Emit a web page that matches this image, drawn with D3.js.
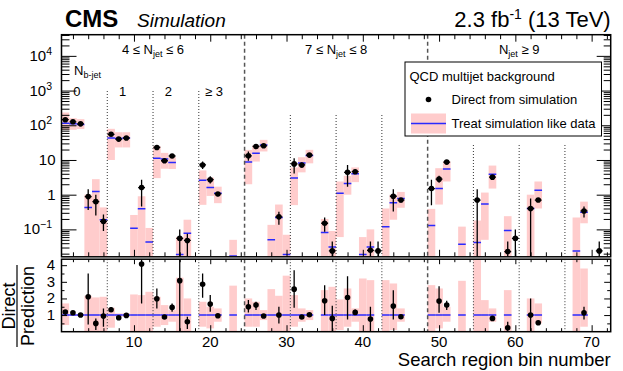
<!DOCTYPE html>
<meta charset="utf-8">
<style>
body { margin: 0; background: #fff; }
svg { font-family: "Liberation Sans", Arial, sans-serif; }
</style>
<body>
<svg width="623" height="371"></svg>
<script src="https://cdnjs.cloudflare.com/ajax/libs/d3/7.8.5/d3.min.js"></script>
<script>

// 72 search bins, 6 per (Njet, Nb-jet) group; null = empty
var bins = d3.range(1, 73);

var direct = [
  145, 126, 110, 0.88, 0.63, 0.17,
  55, 40, 43, null, 1.6, null,
  23, 9.5, 13, 0.055, 0.048, null,
  7.2, 2.7, 1.05, null, null, null,
  13.2, 24.5, 25.6, null, 0.23, null,
  7.7, 7.2, 13.8, null, 0.15, 0.024,
  null, 4.4, 4.6, null, 0.025, 0.024,
  null, 0.9, 0.7, null, null, null,
  1.5, 2.8, 8.7, null, null, null,
  0.7, null, 3.2, null, 0.023, 0.055,
  null, 0.4, 0.7, null, null, null,
  null, null, 0.34, null, 0.024, null
];
var directLo = [
  135, 118, 102, 0.36, 0.25, 0.09,
  50, 36, 39, null, 0.46, null,
  20, 8.3, 11.5, 0, 0, null,
  5.5, 2.1, 0.9, null, null, null,
  9.5, 21, 23, null, 0.135, null,
  4.1, 6, 12.5, null, 0.085, 0,
  null, 1.7, 4.0, null, 0, 0,
  null, 0.33, 0.6, null, null, null,
  0.5, 2.2, 7.8, null, null, null,
  0, null, 2.9, null, 0, 0,
  null, 0, 0.63, null, null, null,
  null, null, 0.22, null, 0, null
];
var directHi = [
  155, 134, 118, 1.44, 1.0, 0.27,
  60, 44, 47, null, 2.7, null,
  26, 10.7, 14.5, 0.1, 0.075, null,
  9, 3.4, 1.2, null, null, null,
  17.6, 28, 28, null, 0.32, null,
  11.3, 8.5, 15, null, 0.22, 0.045,
  null, 7.2, 5.3, null, 0.045, 0.045,
  null, 1.44, 0.8, null, null, null,
  2.7, 3.5, 9.8, null, null, null,
  1.44, null, 3.5, null, 0.045, 0.1,
  null, 0.78, 0.8, null, null, null,
  null, null, 0.46, null, 0.045, null
];

var pred = [
  115, 110, 105, 0.43, 1.23, 0.19,
  43, 41.7, 43, 0.107, 0.39, 0.043,
  11.3, 10.7, 8.5, 0.019, 0.078, null,
  2.6, 1.6, 1.1, null, 0.017, null,
  8.7, 15.7, 27, 0.05, 0.22, 0.019,
  3.0, 8.2, 13.5, null, 0.081, 0.031,
  1.1, 2.1, 4.0, 0.019, 0.031, null,
  0.12, 0.59, 0.78, null, null, null,
  0.13, 1.5, 5.5, null, 0.037, null,
  0.042, 0.54, 3.9, null, 0.093, null,
  null, 0.4, 1.35, null, null, null,
  null, 0.024, 0.31, null, null, null
];
var predLo = [
  74, 74, 78, 0, 0, 0,
  10, 23, 23, 0, 0, 0,
  3, 5.6, 5.5, 0, 0, null,
  0.51, 0.92, 0.57, null, 0, null,
  2.0, 9, 17.6, 0, 0, 0,
  0.5, 4.4, 8, null, 0, 0,
  0.06, 1.0, 2.3, 0, 0, null,
  0, 0.19, 0.42, null, null, null,
  0, 0.52, 2.4, null, 0, null,
  0, 0.05, 1.5, null, 0, null,
  null, 0, 0.4, null, null, null,
  null, 0, 0.15, null, null, null
];
var predHi = [
  233, 160, 150, 1.0, 2.8, 0.43,
  79, 63, 63, 0.26, 0.9, 0.11,
  25, 16, 12, 0.06, 0.19, null,
  5.0, 3.1, 1.7, null, 0.05, null,
  19.5, 26, 38, 0.135, 0.52, 0.07,
  6.1, 12, 19.6, null, 0.2, 0.09,
  2.4, 3.5, 6.1, 0.06, 0.1, null,
  0.4, 1.0, 1.2, null, null, null,
  0.39, 5.8, 9, null, 0.12, null,
  0.18, 1.15, 6.9, null, 0.24, null,
  null, 1.0, 2.4, null, null, null,
  null, 0.22, 0.63, null, null, null
];

// lower panel: direct / prediction
var ratio = [
  1.18, 1.14, 1.0, 2.1, 0.5, 0.94,
  1.32, 0.84, 0.98, null, 4.07, null,
  1.98, 0.88, 1.46, 3.07, 0.6, null,
  2.85, 1.66, 0.96, null, null, null,
  1.5, 1.6, 0.94, null, 1.0, null,
  2.56, 0.88, 1.02, null, 1.86, 0.8,
  null, 2.06, 1.16, null, 0.76, null,
  null, 1.54, 0.9, null, null, null,
  null, 1.84, 1.6, null, null, null,
  null, null, 0.8, null, 0.24, null,
  null, 1.0, 0.54, null, null, null,
  null, null, 1.14, null, null, null
];
var ratioLo = [
  1.1, 1.08, 0.95, 0.44, 0.1, 0.3,
  1.18, 0.78, 0.94, null, 1.7, null,
  1.4, 0.8, 1.2, 0, 0.16, null,
  2.04, 1.2, 0.85, null, null, null,
  1.16, 1.3, 0.9, null, 0.5, null,
  1.44, 0.8, 0.97, null, 1.0, 0,
  null, 0.74, 1.0, null, 0, null,
  null, 0.74, 0.86, null, null, null,
  null, 1.14, 1.3, null, null, null,
  null, null, 0.66, null, 0, null,
  null, 0, 0.42, null, null, null,
  null, null, 0.74, null, null, null
];
var ratioHi = [
  1.26, 1.2, 1.05, 3.5, 0.8, 1.4,
  1.48, 0.9, 1.06, null, 4.4, null,
  2.6, 0.98, 1.7, 4.4, 0.9, null,
  3.5, 2.2, 1.07, null, null, null,
  1.9, 1.8, 0.98, null, 1.5, null,
  3.7, 0.98, 1.08, null, 2.8, 1.56,
  null, 3.34, 1.34, null, 1.5, null,
  null, 2.5, 0.94, null, null, null,
  null, 2.74, 1.86, null, null, null,
  null, null, 0.94, null, 0.6, null,
  null, 2.0, 0.66, null, null, null,
  null, null, 1.5, null, null, null
];
var bandLo = [
  0.4, 0.95, 0.95, 0, 0, 0,
  0.24, 0.9, 0.9, 0, 0, 0,
  0.3, 0.4, 0.6, 0, 0, null,
  0.3, 0.2, 0.6, null, 0, null,
  0.3, 0.3, 0.7, 0, 0, 0,
  0.3, 0.6, 0.7, null, 0, 0,
  0.1, 0.3, 0.6, 0, 0, null,
  0, 0.1, 0.6, null, null, null,
  0, 0.2, 0.6, null, 0, null,
  0, 0, 0.6, null, 0, null,
  null, 0, 0.5, null, null, null,
  null, 0, 0.3, null, null, null
];
var bandHi = [
  1.7, 1.05, 1.05, 2.16, 2.06, 2.1,
  1.44, 1.1, 1.1, 2.24, 2.2, 2.4,
  2.1, 1.6, 1.3, 3.25, 2.0, null,
  1.8, 1.5, 1.4, null, 2.77, null,
  2.0, 1.8, 1.3, 2.56, 2.16, 3.37,
  2.2, 1.4, 1.3, null, 2.5, 2.7,
  1.94, 2.6, 1.4, 3.2, 3.1, null,
  3.1, 2.9, 1.4, null, null, null,
  2.8, 2.6, 1.5, null, 3.06, null,
  4.4, 1.9, 1.4, null, 2.5, null,
  null, 2.0, 1.7, null, null, null,
  null, 4.4, 3.8, null, null, null
];

var nbLabels = ["0", "1", "2", "\u2265 3"];
var nbDividers = [6.5, 12.5, 18.5, 30.5, 36.5, 42.5, 54.5, 60.5, 66.5];
var njetDividers = [24.5, 48.5];

var pink = "#ffcccc", blue = "#2a2aff";

var svg = d3.select("svg");

var left = 61.5, right = 610.7;
var topY0 = 34.7, topY1 = 256.8, ratY0 = 259.2, ratY1 = 331.7;

var x = d3.scaleLinear().domain([0.5, 72.5]).range([left, right]);
var y = d3.scaleLog().domain([Math.pow(10, -1.79), Math.pow(10, 4.61)]).range([topY1, topY0]).clamp(true);
var yr = d3.scaleLinear().domain([0, 4.36]).range([ratY1, ratY0]).clamp(true);
var bw = x(2) - x(1);

svg.append("defs").append("clipPath").attr("id", "clipTop")
  .append("rect").attr("x", left).attr("y", topY0).attr("width", right - left).attr("height", topY1 - topY0);
svg.select("defs").append("clipPath").attr("id", "clipRat")
  .append("rect").attr("x", left).attr("y", ratY0).attr("width", right - left).attr("height", ratY1 - ratY0);

// ---------- upper panel ----------
var gTop = svg.append("g").attr("clip-path", "url(#clipTop)");
var predBins = bins.filter(function(b) { return pred[b - 1] != null; });
var dirBins = bins.filter(function(b) { return direct[b - 1] != null; });

gTop.selectAll("rect.band").data(predBins).enter().append("rect")
    .attr("x", function(b) { return x(b - 0.5); })
    .attr("width", bw)
    .attr("y", function(b) { return y(predHi[b - 1]); })
    .attr("height", function(b) { return y(predLo[b - 1]) - y(predHi[b - 1]); })
    .attr("fill", pink);

gTop.selectAll("line.pred").data(predBins).enter().append("line")
    .attr("x1", function(b) { return x(b - 0.5); })
    .attr("x2", function(b) { return x(b + 0.5); })
    .attr("y1", function(b) { return y(pred[b - 1]); })
    .attr("y2", function(b) { return y(pred[b - 1]); })
    .attr("stroke", blue).attr("stroke-width", 1.5);

// separators
var dividerTop = function(v) { return v < 24.5 ? 91 : v < 48.5 ? 115 : 145; };
gTop.selectAll("line.nb").data(nbDividers).enter().append("line")
    .attr("x1", x).attr("x2", x)
    .attr("y1", dividerTop).attr("y2", topY1)
    .attr("stroke", "#333").attr("stroke-width", 1).attr("stroke-dasharray", "1,2");
gTop.selectAll("line.nj").data(njetDividers).enter().append("line")
    .attr("x1", x).attr("x2", x)
    .attr("y1", topY0).attr("y2", topY1)
    .attr("stroke", "#555").attr("stroke-width", 1.5).attr("stroke-dasharray", "4,3");

// direct points
gTop.selectAll("line.ev").data(dirBins).enter().append("line")
    .attr("x1", x).attr("x2", x)
    .attr("y1", function(b) { return y(directHi[b - 1]); })
    .attr("y2", function(b) { return y(directLo[b - 1]); })
    .attr("stroke", "#000").attr("stroke-width", 1.3);
gTop.selectAll("line.eh").data(dirBins).enter().append("line")
    .attr("x1", function(b) { return x(b - 0.45); })
    .attr("x2", function(b) { return x(b + 0.45); })
    .attr("y1", function(b) { return y(direct[b - 1]); })
    .attr("y2", function(b) { return y(direct[b - 1]); })
    .attr("stroke", "#000").attr("stroke-width", 1.3);
gTop.selectAll("circle").data(dirBins).enter().append("circle")
    .attr("cx", x).attr("cy", function(b) { return y(direct[b - 1]); })
    .attr("r", 2.8).attr("fill", "#000");

// ---------- ratio panel ----------
var gRat = svg.append("g").attr("clip-path", "url(#clipRat)");
gRat.selectAll("rect").data(predBins).enter().append("rect")
    .attr("x", function(b) { return x(b - 0.5); })
    .attr("width", bw)
    .attr("y", function(b) { return yr(bandHi[b - 1]); })
    .attr("height", function(b) { return yr(bandLo[b - 1]) - yr(bandHi[b - 1]); })
    .attr("fill", pink);
gRat.selectAll("line.one").data(predBins).enter().append("line")
    .attr("x1", function(b) { return x(b - 0.5); })
    .attr("x2", function(b) { return x(b + 0.5); })
    .attr("y1", yr(1)).attr("y2", yr(1))
    .attr("stroke", blue).attr("stroke-width", 1.5);
gRat.selectAll("line.nb").data(nbDividers).enter().append("line")
    .attr("x1", x).attr("x2", x).attr("y1", ratY0).attr("y2", ratY1)
    .attr("stroke", "#333").attr("stroke-width", 1).attr("stroke-dasharray", "1,2");
gRat.selectAll("line.nj").data(njetDividers).enter().append("line")
    .attr("x1", x).attr("x2", x).attr("y1", ratY0).attr("y2", ratY1)
    .attr("stroke", "#555").attr("stroke-width", 1.5).attr("stroke-dasharray", "4,3");

var ratBins = bins.filter(function(b) { return ratio[b - 1] != null; });
gRat.selectAll("line.ev").data(ratBins).enter().append("line")
    .attr("x1", x).attr("x2", x)
    .attr("y1", function(b) { return yr(ratioHi[b - 1]); })
    .attr("y2", function(b) { return yr(ratioLo[b - 1]); })
    .attr("stroke", "#000").attr("stroke-width", 1.3);
gRat.selectAll("circle").data(ratBins).enter().append("circle")
    .attr("cx", x).attr("cy", function(b) { return yr(ratio[b - 1]); })
    .attr("r", 2.8).attr("fill", "#000");

// ---------- axes (ROOT style, ticks inward) ----------
var majorX = [10, 20, 30, 40, 50, 60, 70];
var minorX = d3.range(2, 73, 2).filter(function(v) { return v % 10 != 0; });
var logMajor = [0.1, 1, 10, 100, 1000, 10000];
var logMinor = [];
d3.range(-2, 5).forEach(function(e) {
  d3.range(2, 10).forEach(function(k) {
    var v = k * Math.pow(10, e);
    if (v > y.domain()[0] && v < y.domain()[1]) logMinor.push(v);
  });
});
var ratMajor = [1, 2, 3, 4];
var ratMinor = d3.range(0.5, 4.4, 0.5).filter(function(v) { return v % 1 != 0; });

function ticks(g, sel) { g.call(sel); g.select(".domain").remove(); g.selectAll("line").attr("stroke", "#000"); }

function xTicks(yPos, dir, major, minor) {
  svg.append("g").attr("transform", "translate(0," + yPos + ")")
    .call(function(g) { ticks(g, (dir < 0 ? d3.axisBottom(x) : d3.axisTop(x)).tickValues(minorX).tickSize(-minor).tickFormat("")); });
  svg.append("g").attr("transform", "translate(0," + yPos + ")")
    .call(function(g) { ticks(g, (dir < 0 ? d3.axisBottom(x) : d3.axisTop(x)).tickValues(majorX).tickSize(-major).tickFormat("")); });
}
xTicks(topY0, 1, 7, 4.5);
xTicks(topY1, -1, 7, 4.5);
xTicks(ratY0, 1, 5, 3);
xTicks(ratY1, -1, 6.5, 3.5);

function yTicks(scale, xPos, isLeft, vals, len) {
  svg.append("g").attr("transform", "translate(" + xPos + ",0)")
    .call(function(g) { ticks(g, (isLeft ? d3.axisLeft(scale) : d3.axisRight(scale)).tickValues(vals).tickSize(-len).tickFormat("")); });
}
yTicks(y, left, true, logMinor, 8);
yTicks(y, left, true, logMajor, 15);
yTicks(y, right, false, logMinor, 7);
yTicks(y, right, false, logMajor, 14);
yTicks(yr, left, true, ratMinor, 3);
yTicks(yr, left, true, ratMajor, 5.5);
yTicks(yr, right, false, ratMinor, 3.5);
yTicks(yr, right, false, ratMajor, 6.5);

// frames
svg.append("rect").attr("x", left).attr("y", topY0).attr("width", right - left).attr("height", topY1 - topY0)
  .attr("fill", "none").attr("stroke", "#000").attr("stroke-width", 1.5);
svg.append("rect").attr("x", left).attr("y", ratY0).attr("width", right - left).attr("height", ratY1 - ratY0)
  .attr("fill", "none").attr("stroke", "#000").attr("stroke-width", 1.5);

// tick labels
var fs = 15;
var yl = svg.append("g").attr("font-size", fs).attr("text-anchor", "end");
logMajor.forEach(function(v) {
  var e = Math.round(Math.log10(v));
  var t = yl.append("text").attr("y", y(v) + 5);
  if (e === 0 || e === 1) {
    t.attr("x", 55.5).text(e === 0 ? "1" : "10");
  } else {
    t.attr("x", 52);
    t.append("tspan").text("10");
    t.append("tspan").attr("dy", -6).attr("font-size", 10.5).text(e < 0 ? "\u22121" : String(e));
  }
});
ratMajor.forEach(function(v) {
  yl.append("text").attr("x", 55).attr("y", yr(v) + 5).text(v);
});
var xl = svg.append("g").attr("font-size", fs).attr("text-anchor", "middle");
majorX.forEach(function(v) {
  xl.append("text").attr("x", x(v)).attr("y", ratY1 + 15.5).text(v);
});

svg.append("text").attr("x", right).attr("y", 366).attr("text-anchor", "end")
  .attr("font-size", 18.5).text("Search region bin number");

var fr = svg.append("g").attr("transform", "translate(0,306) rotate(-90)").attr("font-size", 18).attr("text-anchor", "middle");
fr.append("text").attr("x", 0).attr("y", 15).text("Direct");
fr.append("text").attr("x", 0).attr("y", 33.5).text("Prediction");
fr.append("line").attr("x1", -41).attr("x2", 41).attr("y1", 17).attr("y2", 17).attr("stroke", "#000").attr("stroke-width", 1.2);

// header
svg.append("text").attr("x", 65).attr("y", 27).attr("font-size", 24).attr("font-weight", "bold").text("CMS");
svg.append("text").attr("x", 137).attr("y", 27).attr("font-size", 19).attr("font-style", "italic").text("Simulation");
var lumi = svg.append("text").attr("x", right).attr("y", 27).attr("font-size", 22).attr("text-anchor", "end");
lumi.append("tspan").text("2.3 fb");
lumi.append("tspan").attr("dy", -8).attr("font-size", 14).text("-1");
lumi.append("tspan").attr("dy", 8).text(" (13 TeV)");

// group labels
function njet(xc, pre, post) {
  var t = svg.append("text").attr("x", xc).attr("y", 54).attr("font-size", 13).attr("text-anchor", "middle");
  t.append("tspan").text(pre + "N");
  t.append("tspan").attr("dy", 3).attr("font-size", 9).text("jet");
  t.append("tspan").attr("dy", -3).text(post);
}
njet(x(12.5), "4 \u2264 ", " \u2264 6");
njet(x(36.5), "7 \u2264 ", " \u2264 8");
njet(x(60.5), "", " \u2265 9");

var nb = svg.append("text").attr("x", 74).attr("y", 75).attr("font-size", 13);
nb.append("tspan").text("N");
nb.append("tspan").attr("dy", 3).attr("font-size", 9).text("b-jet");
[2.5, 8.5, 14.5, 20.5].forEach(function(c, i) {
  svg.append("text").attr("x", x(c)).attr("y", 96).attr("font-size", 13).attr("text-anchor", "middle").text(nbLabels[i]);
});

// legend
var lg = svg.append("g");
lg.append("rect").attr("x", 405).attr("y", 62).attr("width", 196.5).attr("height", 74)
  .attr("fill", "#fff").attr("stroke", "#000").attr("stroke-width", 1);
lg.append("text").attr("x", 409.5).attr("y", 80.5).attr("font-size", 13).text("QCD multijet background");
lg.append("circle").attr("cx", 428.5).attr("cy", 99.5).attr("r", 2.8).attr("fill", "#000");
lg.append("text").attr("x", 451.5).attr("y", 104).attr("font-size", 13).text("Direct from simulation");
lg.append("rect").attr("x", 411).attr("y", 113.5).attr("width", 35).attr("height", 20).attr("fill", pink);
lg.append("line").attr("x1", 411).attr("x2", 446).attr("y1", 123.5).attr("y2", 123.5).attr("stroke", blue).attr("stroke-width", 1.5);
lg.append("text").attr("x", 451.5).attr("y", 128).attr("font-size", 13).text("Treat simulation like data");

</script>
</body>
